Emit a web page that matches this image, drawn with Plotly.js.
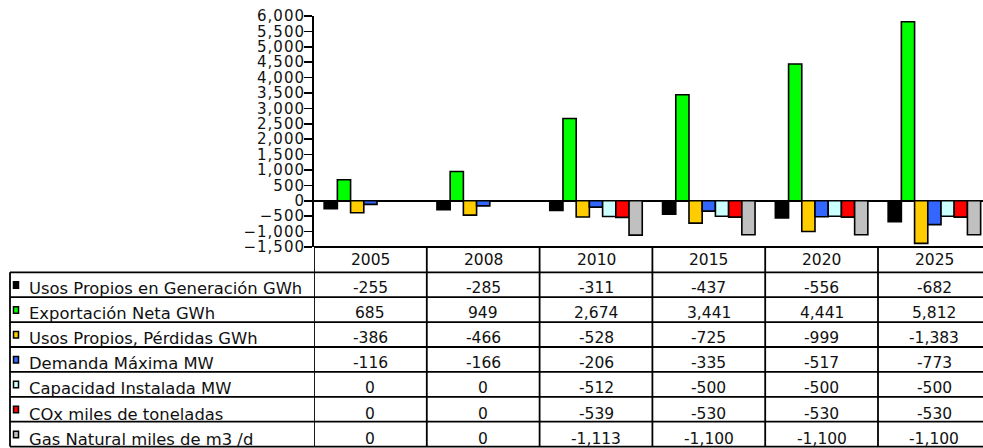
<!DOCTYPE html>
<html>
<head>
<meta charset="utf-8">
<script src="https://cdn.plot.ly/plotly-3.0.1.min.js"></script>
<style>
  html, body { margin: 0; padding: 0; background: #fff; }
  #chart { width: 983px; height: 448px; }
  /* wider spacing for the value axis numbers */
  #chart .ytick text { letter-spacing: 1px; }
</style>
</head>
<body>
<div id="chart"></div>
<script>
// Years (categories) shown in the table header
const years = ['2005', '2008', '2010', '2015', '2020', '2025'];

// Series names and values per year
const seriesNames = [
  'Usos Propios en Generación GWh',
  'Exportación Neta GWh',
  'Usos Propios, Pérdidas GWh',
  'Demanda Máxima MW',
  'Capacidad Instalada MW',
  'COx miles de toneladas',
  'Gas Natural miles de m3 /d'
];
const usosPropiosGen   = [-255, -285, -311, -437, -556, -682];
const exportacionNeta  = [685, 949, 2674, 3441, 4441, 5812];
const usosPropiosPerd  = [-386, -466, -528, -725, -999, -1383];
const demandaMaxima    = [-116, -166, -206, -335, -517, -773];
const capacidadInst    = [0, 0, -512, -500, -500, -500];
const coxToneladas     = [0, 0, -539, -530, -530, -530];
const gasNatural       = [0, 0, -1113, -1100, -1100, -1100];

const seriesValues = [usosPropiosGen, exportacionNeta, usosPropiosPerd,
  demandaMaxima, capacidadInst, coxToneladas, gasNatural];
const seriesColors = ['#000000', '#00ff00', '#ffcc00', '#3366ff',
  '#ccffff', '#ff0000', '#c0c0c0'];

// Page geometry (pixels)
const W = 983, H = 448;
const M = { l: 314, r: 0, t: 16, b: 201 };
const plotW = W - M.l - M.r, plotH = H - M.t - M.b;
const colW = 112.8;               // width of one year column
const xMin = -0.5, xMax = xMin + plotW / colW;
const tableLeft = 10;             // left edge of the label column
const headerBottom = 272.3;       // bottom of the year header row
const rowH = 24.9;                // height of each data row
const textTop = 288;              // text centre of the first data row
const textStep = 25.2;            // text spacing between data rows
const fontFamily = 'DejaVu Sans, Verdana, sans-serif';
const textColor = '#111111';

const px2x = px => (px - M.l) / plotW;          // pixel -> paper x
const py2y = py => (H - M.b - py) / plotH;      // pixel -> paper y

const fmt = v => v.toLocaleString('en-US');

// Bars
const traces = seriesNames.map((name, i) => ({
  type: 'bar',
  name: name,
  x: years.map((_, k) => k),
  y: seriesValues[i],
  marker: { color: seriesColors[i], line: { color: '#000000', width: 1.6 } },
  hoverinfo: 'skip'
}));

// Table grid and labels
const shapes = [];
const annotations = [];
const lineStyle = { color: '#000000', width: 1.8 };
const tableBottomY = py2y(headerBottom + rowH * seriesNames.length);

// header top (continues the axis bottom across the table)
shapes.push({ type: 'line', xref: 'paper', yref: 'paper', x0: 0, x1: 1.02, y0: 0, y1: 0, line: lineStyle });
// column dividers through header and body
for (let k = 0; k <= years.length; k++) {
  shapes.push({ type: 'line', xref: 'x', yref: 'paper', x0: k - 0.5, x1: k - 0.5,
    y0: 0, y1: tableBottomY, line: lineStyle });
}
// horizontal row lines
for (let r = 0; r <= seriesNames.length; r++) {
  const yy = py2y(headerBottom + rowH * r);
  shapes.push({ type: 'line', xref: 'paper', yref: 'paper', x0: px2x(tableLeft), x1: 1.02,
    y0: yy, y1: yy, line: lineStyle });
}
// left border of label column
shapes.push({ type: 'line', xref: 'paper', yref: 'paper', x0: px2x(tableLeft), x1: px2x(tableLeft),
  y0: py2y(headerBottom), y1: tableBottomY, line: lineStyle });

// year header text
years.forEach((yr, k) => {
  annotations.push({ xref: 'x', yref: 'paper', x: k, y: py2y(headerBottom - 25.6 / 2),
    text: yr, showarrow: false, xanchor: 'center', yanchor: 'middle',
    font: { family: fontFamily, size: 15.5, color: textColor } });
});

// rows: legend key, series name, values
seriesNames.forEach((name, i) => {
  const mid = textTop + textStep * i;
  const keyMid = headerBottom + rowH * i + rowH / 2;
  shapes.push({ type: 'rect', xref: 'paper', yref: 'paper',
    x0: px2x(13.5), x1: px2x(18.5), y0: py2y(keyMid - 3), y1: py2y(keyMid + 3.5),
    fillcolor: seriesColors[i], line: { color: '#000000', width: 1.5 } });
  annotations.push({ xref: 'paper', yref: 'paper', x: px2x(27), y: py2y(mid),
    text: name, showarrow: false, xanchor: 'left', yanchor: 'middle',
    font: { family: fontFamily, size: 16.4, color: textColor } });
  seriesValues[i].forEach((v, k) => {
    annotations.push({ xref: 'x', yref: 'paper', x: k, y: py2y(mid - 0.5),
      text: fmt(v), showarrow: false, xanchor: 'center', yanchor: 'middle',
      font: { family: fontFamily, size: 15.5, color: textColor } });
  });
});

const layout = {
  width: W, height: H,
  margin: M,
  paper_bgcolor: '#ffffff',
  plot_bgcolor: '#ffffff',
  showlegend: false,
  barmode: 'group',
  bargap: 0.18,
  bargroupgap: 0,
  xaxis: {
    range: [xMin, xMax],
    showticklabels: false,
    ticks: '',
    showgrid: false,
    zeroline: false,
    showline: false,
    fixedrange: true
  },
  yaxis: {
    range: [-1500, 6000],
    dtick: 500,
    tickformat: ',d',
    ticks: 'outside',
    ticklen: 8,
    tickwidth: 1.6,
    tickcolor: '#000000',
    ticklabelstandoff: -4,
    showline: true,
    linecolor: '#000000',
    linewidth: 2,
    showgrid: false,
    zeroline: true,
    zerolinecolor: '#000000',
    zerolinewidth: 2,
    tickfont: { family: fontFamily, size: 15, color: textColor },
    fixedrange: true
  },
  shapes: shapes,
  annotations: annotations
};

Plotly.newPlot('chart', traces, layout, { displayModeBar: false, staticPlot: true });
</script>
</body>
</html>
